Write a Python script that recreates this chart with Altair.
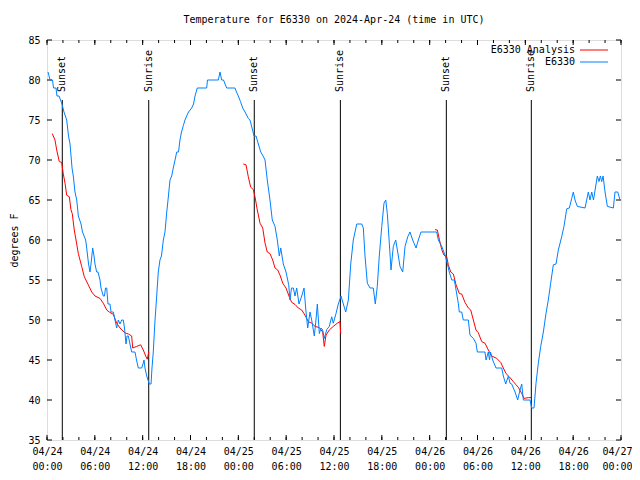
import altair as alt
import pandas as pd

BASE = pd.Timestamp("2024-04-24 00:00")
FONT = "DejaVu Sans Mono"

# (hours since 2024-04-24 00:00 UTC, degrees F)
obs_points = [
    (0.13, 81), (0.38, 80), (0.69, 80), (0.82, 79), (1.13, 79), (1.25, 78), (1.51, 78), (1.88, 77),
    (2.13, 76), (2.47, 75), (2.70, 73), (2.89, 72), (3.14, 69), (3.30, 68), (3.51, 66), (3.73, 65),
    (3.93, 63), (4.27, 62), (4.45, 61), (4.85, 60), (4.98, 59), (5.21, 57), (5.39, 56), (5.52, 57),
    (5.73, 59), (5.90, 58), (6.02, 57), (6.23, 56), (6.40, 56), (6.65, 55), (6.77, 54), (7.06, 53),
    (7.21, 53), (7.34, 54), (7.49, 54), (7.65, 52), (7.90, 52), (8.03, 51), (8.32, 51), (8.53, 50),
    (8.74, 49), (8.94, 50), (9.16, 49.5), (9.37, 50), (9.57, 50), (9.72, 49), (9.91, 47), (10.04, 48),
    (10.20, 48), (10.41, 47), (10.62, 46), (11.04, 46), (11.23, 45), (11.45, 44), (11.88, 44),
    (12.04, 44.5), (12.17, 45), (12.29, 44), (12.51, 43), (12.83, 42), (13.05, 42), (13.17, 44),
    (13.33, 46), (13.55, 50), (13.76, 53), (13.96, 56), (14.17, 57.5), (14.36, 58), (14.59, 60),
    (14.80, 61), (15.02, 63.5), (15.18, 65), (15.43, 67.5), (15.64, 68), (15.84, 69), (16.06, 70),
    (16.27, 71), (16.50, 71), (16.68, 72.5), (16.87, 73.5), (17.10, 74.3), (17.31, 75), (17.52, 75.5),
    (17.75, 76), (18.15, 76.5), (18.38, 77), (18.57, 78), (18.85, 79), (20.03, 79), (20.13, 80),
    (21.49, 80), (21.70, 81), (21.91, 80), (22.14, 80), (22.33, 79.5), (22.54, 79), (23.58, 79),
    (23.77, 78.5), (24.00, 78), (24.27, 77.3), (24.55, 76.5), (24.84, 76), (25.25, 75.2), (25.46, 75),
    (25.72, 74), (25.97, 73), (26.22, 73), (26.51, 72), (26.81, 71), (27.10, 70.5), (27.35, 70),
    (27.63, 67.5), (27.97, 65), (28.26, 62.5), (28.60, 61.7), (28.89, 60), (29.14, 58), (29.32, 59),
    (29.64, 57), (29.98, 56), (30.32, 54.4), (30.48, 52.5), (30.67, 54), (30.90, 54), (31.11, 53),
    (31.32, 54), (31.61, 52), (31.95, 53), (32.24, 54), (32.49, 51), (32.70, 49), (32.99, 51),
    (33.20, 50), (33.53, 48), (33.74, 50), (33.91, 52), (34.16, 48.3), (34.37, 49), (34.58, 48.75),
    (34.78, 47.7), (35.09, 48.8), (35.41, 49.2), (35.71, 50.4), (35.91, 49.6), (36.25, 50.8),
    (36.54, 52), (36.88, 53), (37.17, 52), (37.47, 51), (37.80, 52.5), (38.10, 57), (38.42, 60),
    (38.85, 62), (39.48, 62), (39.68, 61.5), (39.89, 58), (40.18, 54.6), (40.52, 54), (40.93, 54),
    (41.18, 52), (41.43, 54.2), (41.68, 58), (41.99, 61.7), (42.27, 64.6), (42.49, 65), (42.69, 63.3),
    (42.94, 59.6), (43.15, 56.25), (43.44, 59.2), (43.74, 60), (43.99, 58.5), (44.28, 56.7),
    (44.62, 56), (44.91, 59.2), (45.25, 60.4), (45.53, 61), (45.87, 60), (46.29, 59), (46.58, 60),
    (46.91, 61), (48.88, 61), (49.09, 60), (49.51, 59.2), (49.93, 58.1), (50.21, 57.1), (50.46, 56),
    (50.77, 55), (51.09, 55), (51.31, 53.75), (51.59, 52.1), (51.72, 51), (52.02, 51), (52.22, 50),
    (52.85, 50), (53.06, 48.1), (53.48, 47.7), (53.81, 47.1), (53.98, 46), (54.94, 46), (55.07, 45),
    (55.36, 46), (55.51, 45), (55.63, 46), (55.91, 45), (56.32, 44), (57.04, 44), (57.24, 43),
    (57.54, 42), (57.87, 43), (58.08, 42.1), (58.29, 42), (58.71, 41), (59.04, 40), (59.33, 41.25),
    (59.55, 42), (59.75, 40), (60.59, 40), (60.80, 39), (61.09, 39), (61.34, 42.1), (61.63, 44.6),
    (61.93, 46.7), (62.26, 48.5), (62.59, 50.8), (62.88, 52.5), (63.18, 54.6), (63.51, 56.9),
    (63.85, 57), (64.14, 58.75), (64.56, 60.4), (64.85, 61.7), (65.19, 63.9), (65.52, 64),
    (65.82, 65.2), (66.02, 66), (66.23, 65), (66.52, 64.2), (67.49, 64), (67.90, 66), (68.11, 65),
    (68.33, 66), (68.55, 65), (68.87, 67), (69.03, 68), (69.24, 67.3), (69.41, 68), (69.58, 67.3),
    (69.75, 68), (70.00, 66), (70.29, 64.2), (71.04, 64), (71.25, 66), (71.59, 66), (71.88, 65),
]

analysis_night1 = [
    (0.66, 73.3), (1.00, 72.5), (1.22, 71.25), (1.54, 69.8), (1.84, 69.7), (2.04, 68.3), (2.26, 67.1),
    (2.47, 65.6), (2.80, 65.4), (3.01, 63.75), (3.17, 63.3), (3.42, 61.25), (3.64, 60), (3.93, 58.3),
    (4.35, 56.7), (4.68, 55.4), (5.18, 54.4), (5.61, 53.5), (6.02, 53), (6.65, 52.7), (7.06, 52.1),
    (7.49, 51.25), (7.81, 51), (8.32, 50.7), (8.74, 49.6), (9.16, 49), (9.78, 48.4), (10.20, 48.25),
    (10.62, 48), (10.75, 46.5), (11.25, 46.7), (11.75, 46.9), (12.08, 46.25), (12.42, 45.4),
    (12.58, 45.1), (12.76, 46),
]
analysis_night2 = [
    (24.62, 69.5), (24.96, 69.4), (25.25, 67.9), (25.55, 66.6), (25.88, 66.3), (26.09, 65.4),
    (26.38, 63.75), (26.72, 62.1), (27.06, 61.5), (27.35, 59.6), (27.63, 58.5), (27.97, 58.3),
    (28.31, 57.5), (28.60, 56.5), (28.94, 56.25), (29.23, 55.6), (29.57, 54.6), (29.98, 54),
    (30.39, 52.9), (30.70, 52.2), (31.11, 51.95), (31.52, 51.5), (31.95, 51.25), (32.36, 50.6),
    (32.78, 49.8), (33.20, 49.6), (33.62, 49.2), (34.16, 49.05), (34.58, 48.5), (34.78, 46.7),
    (35.00, 48.1), (35.41, 48.75), (35.91, 49.2), (36.42, 49.6), (36.75, 49.8), (36.84, 48.3),
]
analysis_night3 = [
    (48.67, 61.3), (48.96, 61.25), (49.21, 60.1), (49.51, 58.8), (49.80, 58.1), (50.14, 57.9),
    (50.34, 56.9), (50.64, 56), (50.97, 55.75), (51.31, 54.4), (51.72, 53.3), (52.02, 53.25),
    (52.43, 52.2), (52.85, 51.5), (53.15, 51.25), (53.48, 50), (53.81, 48.75), (54.10, 48.4),
    (54.53, 47.3), (54.94, 47.1), (55.36, 46.25), (55.78, 45.5), (56.41, 45.2), (56.91, 44.7),
    (57.24, 44), (57.58, 43.3), (57.99, 42.9), (58.49, 42.3), (58.83, 41.9), (59.12, 41.6),
    (59.55, 40.8), (59.84, 40.2), (60.38, 40.3), (60.71, 40.3),
]

sun_events = ["Sunset", "Sunrise", "Sunset", "Sunrise", "Sunset", "Sunrise"]
sun_hours = [1.92, 12.76, 26.0, 36.8, 50.09, 60.75]

major_x_hours = [0, 6, 12, 18, 24, 30, 36, 42, 48, 54, 60, 66, 72]
minor_x_hours = [0, 2, 4, 6, 8, 10, 12, 14, 16, 18, 20, 22, 24, 26, 28, 30, 32, 34, 36,
                 38, 40, 42, 44, 46, 48, 50, 52, 54, 56, 58, 60, 62, 64, 66, 68, 70, 72]
y_ticks = [35, 40, 45, 50, 55, 60, 65, 70, 75, 80, 85]

W, H = 574, 400


def to_time(hours):
    return [BASE + pd.Timedelta(hours=h) for h in hours]


obs_df = pd.DataFrame({"t": to_time([p[0] for p in obs_points]),
                       "temp": [p[1] for p in obs_points]})
ana_rows = []
for seg, pts in enumerate([analysis_night1, analysis_night2, analysis_night3]):
    for h, v in pts:
        ana_rows.append({"t": BASE + pd.Timedelta(hours=h), "temp": v, "seg": seg})
ana_df = pd.DataFrame(ana_rows)
sun_df = pd.DataFrame({"t": to_time(sun_hours), "event": sun_events})
major_df = pd.DataFrame({"t": to_time(major_x_hours)})
minor_df = pd.DataFrame({"t": to_time(minor_x_hours)})
ytick_df = pd.DataFrame({"temp": y_ticks})


def dt(h):
    return alt.DateTime(year=2024, month=4, date=24 + h // 24, hours=h % 24)


x_scale = alt.Scale(domain=[dt(0), dt(72)])
y_scale = alt.Scale(domain=[35, 85])

x_enc = alt.X(
    "t:T", scale=x_scale,
    axis=alt.Axis(
        title=None, values=[dt(h) for h in major_x_hours],
        labelExpr="[timeFormat(datum.value, '%m/%d'), timeFormat(datum.value, '%H:%M')]",
        ticks=False, domain=False, grid=False, labelPadding=6, labelLineHeight=15,
        labelFont=FONT, labelFontSize=10, labelColor="black", labelAngle=0,
        labelFlush=False, labelOverlap=False, labelBound=False,
        labelOffset={"condition": {"test": "datum.value >= datetime(2024, 3, 26, 23)",
                                   "value": -4}, "value": 0},
    ),
)
y_enc = alt.Y(
    "temp:Q", scale=y_scale,
    axis=alt.Axis(
        title="degrees F", values=y_ticks, ticks=False, domain=False, grid=False,
        labelPadding=7, labelFont=FONT, labelFontSize=10, labelColor="black",
        titleFont=FONT, titleFontSize=10, titleFontWeight="normal", titleColor="black",
        titlePadding=8, labelFlush=False,
    ),
)

obs_line = alt.Chart(obs_df).mark_line(color="#0080ff", strokeWidth=1).encode(x=x_enc, y=y_enc)
ana_line = alt.Chart(ana_df).mark_line(color="#ff0000", strokeWidth=1).encode(
    x=x_enc, y=y_enc, detail="seg:N")

sun_rules = alt.Chart(sun_df).mark_rule(color="black", strokeWidth=1).encode(
    x=x_enc, y=alt.value(60), y2=alt.value(H))
sun_text = alt.Chart(sun_df).mark_text(
    angle=270, align="left", baseline="middle", font=FONT, fontSize=10, color="black"
).encode(x=x_enc, y=alt.value(52), text="event:N")

tick_layers = []
for df_, ln in [(major_df, 5), (minor_df, 3)]:
    tick_layers.append(alt.Chart(df_).mark_rule(color="black").encode(
        x=x_enc, y=alt.value(H), y2=alt.value(H - ln)))
    tick_layers.append(alt.Chart(df_).mark_rule(color="black").encode(
        x=x_enc, y=alt.value(0), y2=alt.value(ln)))
tick_layers.append(alt.Chart(ytick_df).mark_rule(color="black").encode(
    y=y_enc, x=alt.value(0), x2=alt.value(5)))
tick_layers.append(alt.Chart(ytick_df).mark_rule(color="black").encode(
    y=y_enc, x=alt.value(W), x2=alt.value(W - 5)))

legend_names = ["E6330 Analysis", "E6330"]
legend_colors = ["#ff0000", "#0080ff"]
legend_layers = []
for i, (name, col) in enumerate(zip(legend_names, legend_colors)):
    one = alt.Chart(pd.DataFrame({"name": [name]}))
    legend_layers.append(one.mark_text(
        align="right", baseline="middle", font=FONT, fontSize=10, color="black"
    ).encode(text="name:N", x=alt.value(528), y=alt.value(10 + 12 * i)))
    legend_layers.append(one.mark_rule(color=col, strokeWidth=1).encode(
        x=alt.value(533), x2=alt.value(561), y=alt.value(10 + 12 * i)))

chart = alt.layer(
    *tick_layers, sun_rules, sun_text, ana_line, obs_line, *legend_layers
).properties(
    width=W, height=H,
    title=alt.TitleParams(
        "Temperature for E6330 on 2024-Apr-24 (time in UTC)",
        font=FONT, fontSize=10, fontWeight="normal", color="black",
        anchor="middle", frame="group", offset=10,
    ),
    autosize=alt.AutoSizeParams(type="none"),
    padding={"left": 39, "top": 32, "right": 11, "bottom": 40},
).configure_view(stroke="black", strokeWidth=1).configure(background="white")

chart.save("out.html", embed_options={"renderer": "svg", "actions": False})
